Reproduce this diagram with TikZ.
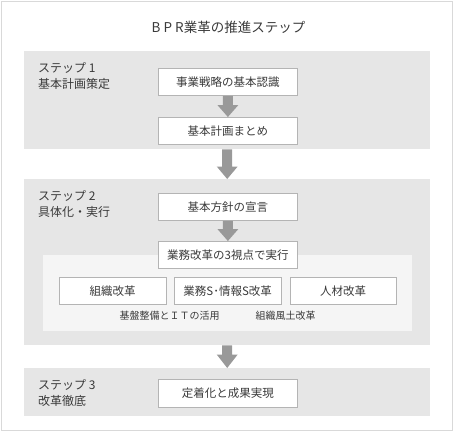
\documentclass[tikz,border=0pt]{standalone}
\usepackage{fontspec}
\newfontfamily\jp{Noto Sans CJK JP}
\usetikzlibrary{calc}
\definecolor{txt}{HTML}{3A3A3A}
\definecolor{panelc}{HTML}{E6E6E6}
\definecolor{innerc}{HTML}{F5F5F5}
\definecolor{boxline}{HTML}{B4B4B4}
\definecolor{arrc}{HTML}{999999}
\definecolor{framec}{HTML}{D9D9D9}
\tikzset{
  panel/.style={fill=panelc, draw=none, inner sep=0pt, anchor=north west, minimum width=406pt},
  innerpanel/.style={fill=innerc, draw=none, inner sep=0pt, anchor=north west},
  bpbox/.style={fill=white, draw=boxline, line width=0.8pt, inner sep=0pt, anchor=north west,
    minimum width=139pt, minimum height=27pt, text=txt, font=\jp\fontsize{11.5}{13}\selectfont},
  subbox/.style={bpbox, minimum width=106.5pt},
  steplabel/.style={anchor=west, inner sep=0pt, text=txt, font=\jp\fontsize{12}{14}\selectfont},
  note/.style={inner sep=0pt, text=txt, font=\jp\fontsize{10}{12}\selectfont},
  arr/.style={fill=arrc, draw=none}
}
\newcommand\bpArrow[3]{%
  \fill[arr] let \p1=(#1), \p2=(#2) in
    (\x1-5pt,\y1) -- (\x1+5pt,\y1) -- (\x1+5pt,\y2+#3) -- (\x1+10.5pt,\y2+#3)
    -- (\x1,\y2) -- (\x1-10.5pt,\y2+#3) -- (\x1-5pt,\y2+#3) -- cycle;}
\begin{document}
\begin{tikzpicture}[x=1pt,y=-1pt]
\useasboundingbox (0,0) rectangle (455,431);
\draw[framec, line width=1pt] (1.5,1.5) rectangle (452,430);
\node[text=txt, font=\jp\fontsize{13.5}{15}\selectfont] (title) at (228.5,27) {B P R業革の推進ステップ};
% panels
\node[panel, minimum height=98pt] (p1) at (24,51) {};
\node[panel, minimum height=166pt] (p2) at (24,179) {};
\node[innerpanel, minimum width=368.5pt, minimum height=76pt] (ip) at (43,255) {};
\node[panel, minimum height=48pt] (p3) at (24,368) {};
% step labels
\node[steplabel] (s1a) at (38,68) {ステップ 1};
\node[steplabel] (s1b) at (38,83.5) {基本計画策定};
\node[steplabel] (s2a) at (38,196) {ステップ 2};
\node[steplabel] (s2b) at (38,212) {具体化・実行};
\node[steplabel] (s3a) at (38,385) {ステップ 3};
\node[steplabel] (s3b) at (38,400.5) {改革徹底};
% boxes
\node[bpbox] (b1) at (158,68) {事業戦略の基本認識};
\node[bpbox] (b2) at (158,117) {基本計画まとめ};
\node[bpbox] (b3) at (158,193) {基本方針の宣言};
\node[bpbox] (b4) at (158,241) {業務改革の3視点で実行};
\node[subbox] (c1) at (59,277) {組織改革};
\node[subbox] (c2) at (174,277) {業務S･情報S改革};
\node[subbox] (c3) at (289.5,277) {人材改革};
\node[bpbox, minimum height=28pt] (b5) at (158,379) {定着化と成果実現};
% notes
\node[note] (n1) at (169.5,315.5) {基盤整備とＩＴの活用};
\node[note] (n2) at (285.5,315.5) {組織風土改革};
% arrows
\bpArrow{b1.south}{b2.north}{12pt}
\bpArrow{p1.south}{p2.north}{12.5pt}
\bpArrow{b3.south}{b4.north}{12pt}
\bpArrow{p2.south}{p3.north}{13.5pt}
\end{tikzpicture}
\end{document}
